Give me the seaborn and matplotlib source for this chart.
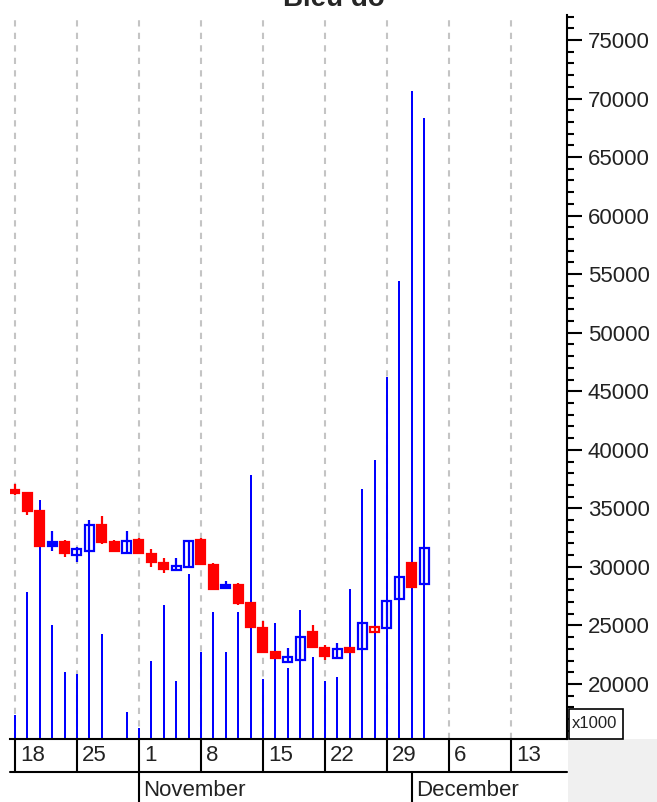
import pandas as pd
import matplotlib
matplotlib.use('Agg')
import matplotlib.pyplot as plt
import matplotlib.transforms as mtransforms
from matplotlib.patches import Rectangle
from matplotlib.ticker import MultipleLocator
import seaborn as sns

# daily candles, trading days from 18 Oct 2021
dates = pd.bdate_range('2021-10-18', periods=34)
opens = [36600, 36300, 34750, 32100, 32100, 31000, 31350, 33550, 32100, 31150,
         32300, 31100, 30300, 29700, 30000, 32300, 30150, 28450, 28450, 26900,
         24800, 22750, 21900, 22050, 24450, 23050, 22200, 23050, 23000, 24450,
         24800, 27250, 30300, 28550]
highs = [37050, 36400, 34800, 33050, 32300, 31700, 34000, 34350, 32300, 33050,
         32450, 31500, 30750, 30750, 32200, 32450, 30300, 28800, 28600, 26900,
         25350, 22750, 23050, 24000, 25050, 23350, 23500, 23050, 25200, 24850,
         27100, 29150, 30300, 31600]
lows = [36100, 34400, 31700, 31350, 30850, 30400, 31350, 31950, 31350, 31150,
        31150, 30000, 29450, 29700, 30000, 30250, 28150, 28100, 26750, 24850,
        22750, 22200, 21900, 22050, 23150, 22050, 22200, 22750, 23000, 24450,
        24800, 27250, 28250, 28550]
closes = [36300, 34750, 31750, 31800, 31150, 31500, 33550, 32100, 31350, 32200,
          31150, 30400, 29800, 30050, 32200, 30250, 28150, 28200, 26900, 24850,
          22750, 22200, 22300, 24000, 23150, 22400, 23000, 22750, 25200, 24850,
          27100, 29150, 28250, 31600]
volumes = [330, 2030, 3300, 1575, 925, 900, 3025, 1450, 0, 375,
           150, 1075, 1850, 800, 2280, 1200, 1755, 1200, 1755, 3645,
           830, 1600, 980, 1780, 1130, 800, 855, 2070, 3455, 3855,
           5000, 6325, 8950, 8575]

week_labels = ['18', '25', '1', '8', '15', '22', '29', '6', '13']
week_dates = pd.date_range('2021-10-18', periods=9, freq='7D')
month_labels = ['November', 'December']
month_dates = pd.to_datetime(['2021-11-01', '2021-12-01'])

sns.set_theme(style='white')
plt.rcParams['font.family'] = ['Liberation Sans', 'DejaVu Sans']

all_days = pd.bdate_range('2021-10-18', '2021-12-31')
slot = {d: i for i, d in enumerate(all_days)}
idx = [slot[d] for d in dates]

fig = plt.figure(figsize=(6.57, 8.02), dpi=100)
ax_vol = fig.add_axes([10 / 657, 63 / 802, 557 / 657, 724 / 802])
ax = ax_vol.twinx()

# volume
vol_df = pd.DataFrame({'slot': idx, 'volume': volumes})
sns.barplot(data=vol_df, x='slot', y='volume', native_scale=True, width=0.17,
            color='#0000ff', saturation=1, linewidth=0, errorbar=None, ax=ax_vol)
ax_vol.set_ylim(0, 10000)

week_slots = [slot[d] for d in week_dates]
for s in week_slots:
    ax_vol.axvline(s, color='#c4c4c4', lw=1.5, ls=(0, (3, 3)), zorder=0)

# candles
w = 0.72
for i, (x, o, h, l, c) in enumerate(zip(idx, opens, highs, lows, closes)):
    up = i > 0 and c >= closes[i - 1]
    col = '#0000ff' if up else '#ff0000'
    ax.vlines(x, l, h, color=col, lw=1.6, zorder=3)
    filled = c < o
    ax.add_patch(Rectangle((x - w / 2, min(o, c)), w, max(abs(c - o), 60),
                           facecolor=col if filled else 'none', edgecolor=col,
                           lw=1.6, zorder=4))

ax.set_xlim(-0.4, 44.52)
ax.set_ylim(15303, 77133)
ax.yaxis.set_major_locator(MultipleLocator(5000))
ax.yaxis.set_minor_locator(MultipleLocator(1000))
ax.tick_params(axis='y', which='major', right=True, length=11, width=1.5, pad=4,
               labelsize=16, labelcolor='#222222', color='black')
ax.tick_params(axis='y', which='minor', right=True, length=5, width=1.5, color='black')
ax.set_ylabel('')
for side in ['top', 'left', 'bottom']:
    ax.spines[side].set_visible(False)
ax.spines['right'].set_color('black')
ax.spines['right'].set_linewidth(1.5)

ax_vol.set_yticks([])
ax_vol.set_xticks([])
ax_vol.set_xlabel('')
ax_vol.set_ylabel('')
for side in ['top', 'left', 'right']:
    ax_vol.spines[side].set_visible(False)
ax_vol.spines['bottom'].set_color('black')
ax_vol.spines['bottom'].set_linewidth(1.5)

# date rows under the plot
trans = mtransforms.blended_transform_factory(ax_vol.transData, ax_vol.transAxes)
row1 = -33 / 724
row2 = -66 / 724
ax_vol.plot([0, 1], [row1, row1], transform=ax_vol.transAxes, color='black',
            lw=1.5, clip_on=False)
lab_trans = mtransforms.offset_copy(trans, fig=fig, x=5, y=0, units='dots')
for s, lab in zip(week_slots, week_labels):
    ax_vol.plot([s, s], [0, row1], transform=trans, color='black', lw=1.5, clip_on=False)
    ax_vol.text(s, row1 / 2, lab, transform=lab_trans, ha='left', va='center',
                fontsize=16, color='#222222')
month_trans = mtransforms.offset_copy(trans, fig=fig, x=4, y=0, units='dots')
for d, lab in zip(month_dates, month_labels):
    s = slot[d]
    ax_vol.plot([s, s], [row1, row2], transform=trans, color='black', lw=1.5, clip_on=False)
    ax_vol.text(s, -51 / 724, lab, transform=month_trans, ha='left', va='center',
                fontsize=16, color='#222222')

fig.patches.append(Rectangle((568 / 657, 0), 89 / 657, 63 / 802,
                             transform=fig.transFigure, facecolor='#f0f0f0',
                             edgecolor='none', zorder=0))
fig.patches.append(Rectangle((569 / 657, 63 / 802), 54 / 657, 30 / 802,
                             transform=fig.transFigure, facecolor='white',
                             edgecolor='black', lw=1.2, zorder=5))
fig.text(572 / 657, 78 / 802, 'x1000', ha='left', va='center', fontsize=12,
         color='#222222', zorder=6)

fig.text(0.508, 1 - 6 / 802, 'Biểu đồ', ha='center', va='baseline',
         fontsize=20, fontweight='bold')

fig.savefig('out.png', dpi=100)
